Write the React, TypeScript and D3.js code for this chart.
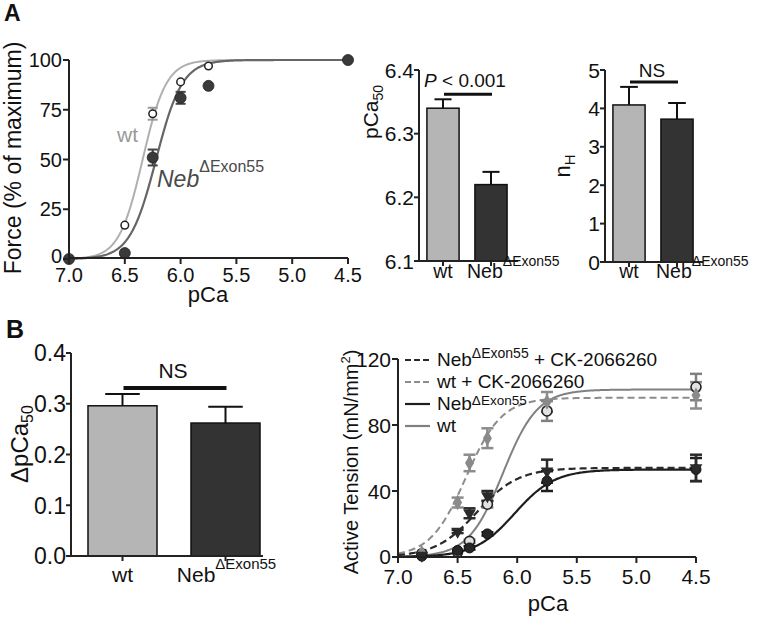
import React from 'react';
import * as d3 from 'd3';

const FONT = "'Liberation Sans', Arial, Helvetica, sans-serif";

// ---------- Panel A (left): force-pCa ----------
const pcaA = [7.0, 6.5, 6.25, 6.0, 5.75, 4.5];
const forceWt = [0, 17, 73, 89, 97, 100];
const forceWtErr = [0, 0, 3, 0, 0, 0];
const forceNeb = [0, 3, 51, 81, 87, 100];
const forceNebErr = [0, 0, 4, 3, 0, 0];
const fitWtA = [100, 6.34, 4.1];
const fitNebA = [100, 6.22, 3.7];
const pcaTicks = [7.0, 6.5, 6.0, 5.5, 5.0, 4.5];
const forceTicks = [0, 25, 50, 75, 100];

// ---------- Bar panels ----------
const groups = ['wt', 'Neb'];
const barFills = ['#b5b5b5', '#333333'];
const pca50Mean = [6.34, 6.22];
const pca50Sem = [0.014, 0.02];
const pca50Ticks = [6.1, 6.2, 6.3, 6.4];
const pca50Sig = 6.362;
const nhMean = [4.09, 3.72];
const nhSem = [0.47, 0.42];
const nhTicks = [0, 1, 2, 3, 4, 5];
const nhSig = 4.69;
const dpcaMean = [0.296, 0.262];
const dpcaSem = [0.023, 0.032];
const dpcaTicks = [0, 0.1, 0.2, 0.3, 0.4];
const dpcaSig = 0.331;

// ---------- Panel B (right): active tension ----------
const pcaB = [6.8, 6.5, 6.4, 6.25, 5.75, 4.5];
const tensionNebCK = [1, 15.5, 26.5, 37, 52, 54];
const tensionNebCKErr = [0, 1, 3, 3, 7, 8];
const tensionWtCK = [2.5, 33, 57, 72, 94, 98];
const tensionWtCKErr = [0, 3, 5, 6, 6, 8];
const tensionNeb = [0.5, 4, 5.5, 14, 46, 53];
const tensionNebErr = [0, 0, 1, 1, 6, 7];
const tensionWt = [2, 3, 9.5, 32, 88.5, 103];
const tensionWtErr = [0, 0, 1, 2, 6, 8];
const fitNebCK = [54, 6.34, 2.5];
const fitWtCK = [96.5, 6.43, 2.9];
const fitNeb = [53, 6.02, 2.6];
const fitWt = [101.5, 6.12, 3.0];
const tensionTicks = [0, 40, 80, 120];

function hill(p: number, f: number[]) {
  return f[0] / (1 + Math.pow(10, f[2] * (p - f[1])));
}
const curvePca = d3.range(7.0, 4.495, -0.01);

function NebText(props: any) {
  const { x, y, fs, sup, italic, anchor = 'start', fill = '#111', rest, raise } = props;
  const dy = -(raise ?? 0.6 * fs);
  return (
    <text x={x} y={y} fontSize={fs} textAnchor={anchor} fill={fill} fontFamily={FONT}>
      <tspan fontStyle={italic ? 'italic' : 'normal'}>Neb</tspan>
      <tspan fontSize={sup} dy={dy}>ΔExon55</tspan>
      {rest ? <tspan dy={-dy}>{rest}</tspan> : null}
    </text>
  );
}

function BarPanel(props: any) {
  const { range, axisEnd, yRange, domain, ticks, fmt, means, sems, tickFs, catFs, supFs, catDy, nebMode, nebOffset, capFrac, sig, sigThick, sigLabel, sigDy } = props;
  const x = d3.scaleBand().domain(groups).range(range).paddingInner(0.33).paddingOuter(0.165);
  const y = d3.scaleLinear().domain(domain).range(yRange);
  const x0 = range[0];
  const yb = y(domain[0]);
  const bw = x.bandwidth();
  const cxs = groups.map((g) => (x(g) as number) + bw / 2);
  return (
    <g>
      {means.map((m: number, i: number) => {
        const bx = x(groups[i]) as number;
        const cx = cxs[i];
        const yt = y(m);
        const ye = y(m + sems[i]);
        const cap = (bw * capFrac) / 2;
        return (
          <g key={i}>
            <line x1={cx} x2={cx} y1={yt} y2={ye} stroke="#111" strokeWidth={2} />
            <line x1={cx - cap} x2={cx + cap} y1={ye} y2={ye} stroke="#111" strokeWidth={2} />
            <rect x={bx} y={yt} width={bw} height={yb - yt} fill={barFills[i]} stroke="#111" strokeWidth={1.5} />
          </g>
        );
      })}
      <line x1={x0} x2={x0} y1={y(domain[1])} y2={yb} stroke="#222" strokeWidth={2} />
      <line x1={x0} x2={axisEnd} y1={yb} y2={yb} stroke="#222" strokeWidth={2} />
      {ticks.map((t: number) => (
        <g key={t}>
          <line x1={x0 - 5} x2={x0} y1={y(t)} y2={y(t)} stroke="#222" strokeWidth={2} />
          <text x={x0 - 5} y={y(t)} dy="0.36em" fontSize={tickFs} textAnchor="end" fill="#111" fontFamily={FONT}>
            {fmt(t)}
          </text>
        </g>
      ))}
      {cxs.map((cx, i) => (
        <line key={i} x1={cx} x2={cx} y1={yb} y2={yb + 5} stroke="#222" strokeWidth={2} />
      ))}
      <text x={cxs[0]} y={yb + catDy} fontSize={catFs} textAnchor="middle" fill="#111" fontFamily={FONT}>
        wt
      </text>
      <NebText x={cxs[1] + nebOffset} y={yb + catDy} fs={catFs} sup={supFs} anchor={nebMode} />
      <line x1={cxs[0] + 1} x2={cxs[1] + 1} y1={y(sig)} y2={y(sig)} stroke="#111" strokeWidth={sigThick} />
      {sigLabel((cxs[0] + cxs[1]) / 2, y(sig) - sigDy)}
    </g>
  );
}

function Marker(props: any) {
  const { kind, x, y } = props;
  if (kind === 'circle') return <circle cx={x} cy={y} r={5} fill="#262626" stroke="#111" strokeWidth={1} />;
  if (kind === 'open') return <circle cx={x} cy={y} r={5} fill="#e2e2e2" stroke="#222" strokeWidth={1.6} />;
  if (kind === 'diamond')
    return <path d={d3.symbol().type(d3.symbolDiamond).size(70)() as string} transform={`translate(${x},${y})`} fill="#8a8a8a" />;
  return <path d={d3.symbol().type(d3.symbolTriangle).size(70)() as string} transform={`translate(${x},${y}) rotate(180)`} fill="#2a2a2a" />;
}

export default function App() {
  const xA = d3.scaleLinear().domain([7.0, 4.5]).range([69, 348]);
  const yA = d3.scaleLinear().domain([0, 100]).range([259, 60]);

  const xB = d3.scaleLinear().domain([7.0, 4.5]).range([398, 696]);
  const yB = d3.scaleLinear().domain([0, 120]).range([557, 359]);

  const seriesB = [
    { vals: tensionWt, errs: tensionWtErr, fit: fitWt, color: '#808080', dash: null, marker: 'open', width: 2 },
    { vals: tensionNeb, errs: tensionNebErr, fit: fitNeb, color: '#1e1e1e', dash: null, marker: 'circle', width: 2.2 },
    { vals: tensionWtCK, errs: tensionWtCKErr, fit: fitWtCK, color: '#8c8c8c', dash: '7,4', marker: 'diamond', width: 2 },
    { vals: tensionNebCK, errs: tensionNebCKErr, fit: fitNebCK, color: '#2a2a2a', dash: '7,4', marker: 'tri', width: 2.2 },
  ];
  const legendB = [
    { color: '#2a2a2a', dash: '6,3' },
    { color: '#8c8c8c', dash: '6,3' },
    { color: '#1e1e1e', dash: null },
    { color: '#808080', dash: null },
  ];

  const fitPath = (f: number[], xs: any, ys: any) =>
    d3
      .line<number>()
      .x((p) => xs(p))
      .y((p) => ys(hill(p, f)))(curvePca) as string;

  return (
    <div style={{ position: 'absolute', left: 0, top: 0 }}>
      <svg width={760} height={620} style={{ display: 'block', background: '#fff' }} fontFamily={FONT}>
        <rect width={760} height={620} fill="#fff" />
        <text x={4} y={21} fontSize={23} fontWeight="bold" fill="#111">A</text>
        <text x={6} y={338} fontSize={25} fontWeight="bold" fill="#111">B</text>

        {/* ===== Panel A left ===== */}
        <g>
          <path d={fitPath(fitWtA, xA, yA)} fill="none" stroke="#b0b0b0" strokeWidth={2} />
          <path d={fitPath(fitNebA, xA, yA)} fill="none" stroke="#666" strokeWidth={2.2} />
          {pcaA.map((p, i) =>
            forceWtErr[i] > 0 ? (
              <g key={'we' + i} stroke="#9a9a9a" strokeWidth={2}>
                <line x1={xA(p)} x2={xA(p)} y1={yA(forceWt[i] - forceWtErr[i])} y2={yA(forceWt[i] + forceWtErr[i])} />
                <line x1={xA(p) - 5} x2={xA(p) + 5} y1={yA(forceWt[i] - forceWtErr[i])} y2={yA(forceWt[i] - forceWtErr[i])} />
                <line x1={xA(p) - 5} x2={xA(p) + 5} y1={yA(forceWt[i] + forceWtErr[i])} y2={yA(forceWt[i] + forceWtErr[i])} />
              </g>
            ) : null
          )}
          {pcaA.map((p, i) =>
            forceNebErr[i] > 0 ? (
              <g key={'ne' + i} stroke="#444" strokeWidth={2}>
                <line x1={xA(p)} x2={xA(p)} y1={yA(forceNeb[i] - forceNebErr[i])} y2={yA(forceNeb[i] + forceNebErr[i])} />
                <line x1={xA(p) - 5} x2={xA(p) + 5} y1={yA(forceNeb[i] - forceNebErr[i])} y2={yA(forceNeb[i] - forceNebErr[i])} />
                <line x1={xA(p) - 5} x2={xA(p) + 5} y1={yA(forceNeb[i] + forceNebErr[i])} y2={yA(forceNeb[i] + forceNebErr[i])} />
              </g>
            ) : null
          )}
          {pcaA.map((p, i) => (
            <circle key={'nb' + i} cx={xA(p)} cy={yA(forceNeb[i])} r={5.5} fill="#3a3a3a" stroke="#222" strokeWidth={0.8} />
          ))}
          {pcaA.map((p, i) =>
            i > 0 && i < pcaA.length - 1 ? (
              <circle key={'wt' + i} cx={xA(p)} cy={yA(forceWt[i])} r={3.8} fill="#fff" stroke="#222" strokeWidth={1.5} />
            ) : null
          )}
          <line x1={69} x2={69} y1={yA(100)} y2={yA(0)} stroke="#222" strokeWidth={2} />
          <line x1={69} x2={xA(4.5)} y1={yA(0) - 1} y2={yA(0) - 1} stroke="#222" strokeWidth={2} />
          {forceTicks.map((t) => (
            <g key={t}>
              <line x1={63} x2={69} y1={yA(t)} y2={yA(t)} stroke="#222" strokeWidth={2} />
              <text x={62} y={yA(t) - (t === 0 ? 3 : 0)} dy="0.36em" fontSize={20} textAnchor="end" fill="#111">{t}</text>
            </g>
          ))}
          {pcaTicks.map((t) => (
            <g key={t}>
              <line x1={xA(t)} x2={xA(t)} y1={yA(0) - 1} y2={yA(0) + 5} stroke="#222" strokeWidth={2} />
              <text x={xA(t)} y={yA(0) + 23} fontSize={20} textAnchor="middle" fill="#111">{t.toFixed(1)}</text>
            </g>
          ))}
          <text x={208} y={302} fontSize={22} textAnchor="middle" fill="#111">pCa</text>
          <text transform="translate(21,158) rotate(-90)" fontSize={23} textAnchor="middle" fill="#111">
            Force (% of maximum)
          </text>
          <text x={117} y={142} fontSize={21} fill="#9a9a9a">wt</text>
          <NebText x={157} y={187} fs={23} sup={16} italic fill="#4a4a4a" raise={15} />
        </g>

        {/* ===== Panel A middle: pCa50 ===== */}
        <BarPanel
          range={[419, 515]}
          axisEnd={518}
          yRange={[261, 70]}
          domain={[6.1, 6.4]}
          ticks={pca50Ticks}
          fmt={d3.format('.1f')}
          means={pca50Mean}
          sems={pca50Sem}
          tickFs={21}
          catFs={19.5}
          supFs={14}
          catDy={17}
          nebMode="start"
          nebOffset={-24}
          capFrac={0.53}
          sig={pca50Sig}
          sigThick={3}
          sigDy={7}
          sigLabel={(cx: number, cy: number) => (
            <text x={cx - 2} y={cy} fontSize={19} textAnchor="middle" fill="#111">
              <tspan fontStyle="italic">P</tspan> &lt; 0.001
            </text>
          )}
        />
        <text transform="translate(378,112) rotate(-90)" fontSize={21} textAnchor="middle" fill="#111">
          pCa<tspan fontSize={14} dy={5}>50</tspan>
        </text>

        {/* ===== Panel A right: nH ===== */}
        <BarPanel
          range={[605, 701]}
          axisEnd={703}
          yRange={[262, 70]}
          domain={[0, 5]}
          ticks={nhTicks}
          fmt={d3.format('d')}
          means={nhMean}
          sems={nhSem}
          tickFs={21}
          catFs={19.5}
          supFs={14}
          catDy={16}
          nebMode="start"
          nebOffset={-21}
          capFrac={0.55}
          sig={nhSig}
          sigThick={3}
          sigDy={5}
          sigLabel={(cx: number, cy: number) => (
            <text x={cx - 1} y={cy} fontSize={19} textAnchor="middle" fill="#111">NS</text>
          )}
        />
        <text transform="translate(570,166) rotate(-90)" fontSize={22} textAnchor="middle" fill="#111">
          n<tspan fontSize={15} dy={5}>H</tspan>
        </text>

        {/* ===== Panel B left: ΔpCa50 ===== */}
        <BarPanel
          range={[71, 277]}
          axisEnd={263}
          yRange={[556, 353]}
          domain={[0, 0.4]}
          ticks={dpcaTicks}
          fmt={d3.format('.1f')}
          means={dpcaMean}
          sems={dpcaSem}
          tickFs={23}
          catFs={21}
          supFs={15}
          catDy={26}
          nebMode="middle"
          nebOffset={1}
          capFrac={0.5}
          sig={dpcaSig}
          sigThick={4}
          sigDy={10}
          sigLabel={(cx: number, cy: number) => (
            <text x={cx - 1} y={cy} fontSize={21} textAnchor="middle" fill="#111">NS</text>
          )}
        />
        <text transform="translate(28,444) rotate(-90)" fontSize={24} textAnchor="middle" fill="#111">
          ΔpCa<tspan fontSize={16} dy={5}>50</tspan>
        </text>

        {/* ===== Panel B right: Active tension ===== */}
        <g>
          {seriesB.map((s, k) => (
            <path
              key={'f' + k}
              d={fitPath(s.fit, xB, yB)}
              fill="none"
              stroke={s.color}
              strokeWidth={s.width}
              strokeDasharray={s.dash || undefined}
            />
          ))}
          {seriesB.map((s, k) =>
            pcaB.map((p, i) =>
              s.errs[i] > 0 ? (
                <g key={'e' + k + '-' + i} stroke={s.color} strokeWidth={2.5}>
                  <line x1={xB(p)} x2={xB(p)} y1={yB(s.vals[i] - s.errs[i])} y2={yB(s.vals[i] + s.errs[i])} />
                  <line x1={xB(p) - 6} x2={xB(p) + 6} y1={yB(s.vals[i] - s.errs[i])} y2={yB(s.vals[i] - s.errs[i])} />
                  <line x1={xB(p) - 6} x2={xB(p) + 6} y1={yB(s.vals[i] + s.errs[i])} y2={yB(s.vals[i] + s.errs[i])} />
                </g>
              ) : null
            )
          )}
          {seriesB.map((s, k) =>
            pcaB.map((p, i) => <Marker key={'m' + k + '-' + i} kind={s.marker} x={xB(p)} y={yB(s.vals[i])} />)
          )}
          <line x1={398} x2={398} y1={yB(120)} y2={yB(0)} stroke="#222" strokeWidth={2} />
          <line x1={398} x2={xB(4.5)} y1={yB(0)} y2={yB(0)} stroke="#222" strokeWidth={2} />
          {tensionTicks.map((t) => (
            <g key={t}>
              <line x1={392} x2={398} y1={yB(t)} y2={yB(t)} stroke="#222" strokeWidth={2} />
              <text x={391} y={yB(t) - (t === 0 ? 1 : 0)} dy="0.36em" fontSize={21} textAnchor="end" fill="#111">{t}</text>
            </g>
          ))}
          {pcaTicks.map((t) => (
            <g key={t}>
              <line x1={xB(t)} x2={xB(t)} y1={yB(0)} y2={yB(0) + 6} stroke="#222" strokeWidth={2} />
              <text x={xB(t)} y={yB(0) + 27} fontSize={21} textAnchor="middle" fill="#111">{t.toFixed(1)}</text>
            </g>
          ))}
          <text x={548} y={611} fontSize={22} textAnchor="middle" fill="#111">pCa</text>
          <text transform="translate(358,462) rotate(-90)" fontSize={20} textAnchor="middle" fill="#111">
            Active Tension (mN/mm<tspan fontSize={13} dy={-8}>2</tspan><tspan dy={8}>)</tspan>
          </text>
          {legendB.map((l, i) => (
            <line
              key={'l' + i}
              x1={405}
              x2={430}
              y1={360 + i * 22}
              y2={360 + i * 22}
              stroke={l.color}
              strokeWidth={2.2}
              strokeDasharray={l.dash || undefined}
            />
          ))}
          <NebText x={437} y={366} fs={19} sup={14} raise={8} rest=" + CK-2066260" />
          <text x={437} y={388} fontSize={19} fill="#111">wt + CK-2066260</text>
          <NebText x={437} y={410} fs={19} sup={13.5} raise={5} />
          <text x={437} y={432} fontSize={19} fill="#111">wt</text>
        </g>
      </svg>
    </div>
  );
}
